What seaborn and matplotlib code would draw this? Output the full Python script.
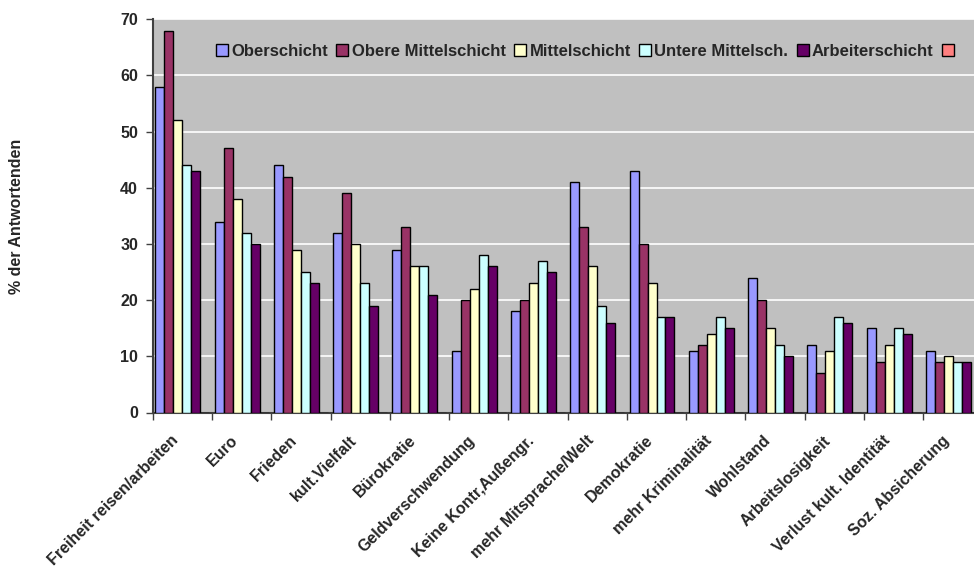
import matplotlib
matplotlib.use("Agg")
import matplotlib.pyplot as plt
from matplotlib.patches import Patch
import matplotlib.transforms as mtransforms
import seaborn as sns
import pandas as pd

categories = [
    "Freiheit reisen/arbeiten", "Euro", "Frieden", "kult.Vielfalt", "Bürokratie",
    "Geldverschwendung", "Keine Kontr,Außengr.", "mehr Mitsprache/Welt", "Demokratie",
    "mehr Kriminalität", "Wohlstand", "Arbeitslosigkeit", "Verlust kult. Identität",
    "Soz. Absicherung",
]
series_names = ["Oberschicht", "Obere Mittelschicht", "Mittelschicht",
                "Untere Mittelsch.", "Arbeiterschicht", ""]
oberschicht = [58, 34, 44, 32, 29, 11, 18, 41, 43, 11, 24, 12, 15, 11]
obere_mittelschicht = [68, 47, 42, 39, 33, 20, 20, 33, 30, 12, 20, 7, 9, 9]
mittelschicht = [52, 38, 29, 30, 26, 22, 23, 26, 23, 14, 15, 11, 12, 10]
untere_mittelschicht = [44, 32, 25, 23, 26, 28, 27, 19, 17, 17, 12, 17, 15, 9]
arbeiterschicht = [43, 30, 23, 19, 21, 26, 25, 16, 17, 15, 10, 16, 14, 9]
leer = [0] * len(categories)
colors = ["#9999FF", "#993366", "#FFFFCC", "#CCFFFF", "#660066", "#FF8080"]
y_ticks = [0, 10, 20, 30, 40, 50, 60, 70]

all_series = [oberschicht, obere_mittelschicht, mittelschicht,
              untere_mittelschicht, arbeiterschicht, leer]
keys = [f"s{i}" for i in range(len(series_names))]
rows = []
for key, vals in zip(keys, all_series):
    for cat, v in zip(categories, vals):
        rows.append({"Kategorie": cat, "Reihe": key, "Wert": v})
df = pd.DataFrame(rows)

sns.set_theme(style="white")
plt.rcParams["font.family"] = ["Liberation Sans", "DejaVu Sans"]
plt.rcParams["font.weight"] = "bold"

FS = 11.5

fig = plt.figure(figsize=(9.74, 5.70), dpi=100)
W, H = 974, 570
left, right, top, bottom = 152.7, 982.5, 19.3, 412.5
ax = fig.add_axes([left / W, 1 - bottom / H, (right - left) / W, (bottom - top) / H])
ax.set_facecolor("#C0C0C0")

sns.barplot(data=df, x="Kategorie", y="Wert", hue="Reihe", hue_order=keys,
            order=categories, palette=colors, width=0.91, dodge=True,
            edgecolor="black", linewidth=1.0, saturation=1, errorbar=None,
            legend=False, ax=ax, zorder=3)

ax.set_xlim(-0.5, len(categories) - 0.5)
ax.set_ylim(0, 70)
ax.set_yticks(y_ticks)
ax.set_yticklabels([str(t) for t in y_ticks], fontsize=FS, fontweight="bold")
ax.yaxis.grid(True, color="white", linewidth=1.2, zorder=0)
ax.set_axisbelow(True)

ax.set_xticks(range(len(categories)))
ax.set_xticklabels(categories, rotation=45, ha="right", va="center",
                   rotation_mode="anchor", fontsize=FS, fontweight="bold")
ax.set_xticks([i - 0.5 for i in range(len(categories) + 1)], minor=True)
ax.tick_params(axis="x", which="major", length=0, pad=18.5)
ax.tick_params(axis="x", which="minor", length=5, width=1, color="#404040",
               direction="out", bottom=True)
ax.tick_params(axis="y", which="major", length=5, width=1, color="#404040",
               direction="out", left=True, pad=5.5)
for lbl in ax.get_xticklabels():
    lbl.set_transform(lbl.get_transform() +
                      mtransforms.ScaledTranslation(-6.0 / 100, 0, fig.dpi_scale_trans))

ax.set_xlabel("")
ax.set_ylabel("")
for side in ["top", "right"]:
    ax.spines[side].set_visible(False)
ax.spines["left"].set_color("#404040")
ax.spines["left"].set_linewidth(1.5)
ax.spines["bottom"].set_color("#404040")
ax.spines["bottom"].set_linewidth(1.5)

fig.text(17 / W, 1 - 216 / H, "% der Antwortenden", rotation=90,
         ha="center", va="center", fontsize=FS, fontweight="bold")

handles = [Patch(facecolor=c, edgecolor="black", linewidth=1.0) for c in colors]
leg = ax.legend(handles, series_names, ncol=6, loc="center left",
                bbox_to_anchor=((216 - left) / (right - left), (bottom - 51.5) / (bottom - top)),
                frameon=False, fontsize=12, handlelength=0.72, handleheight=0.72,
                handletextpad=0.2, columnspacing=0.5, borderpad=0, borderaxespad=0)
for t in leg.get_texts():
    t.set_fontweight("bold")

fig.savefig("out.png", dpi=100)
